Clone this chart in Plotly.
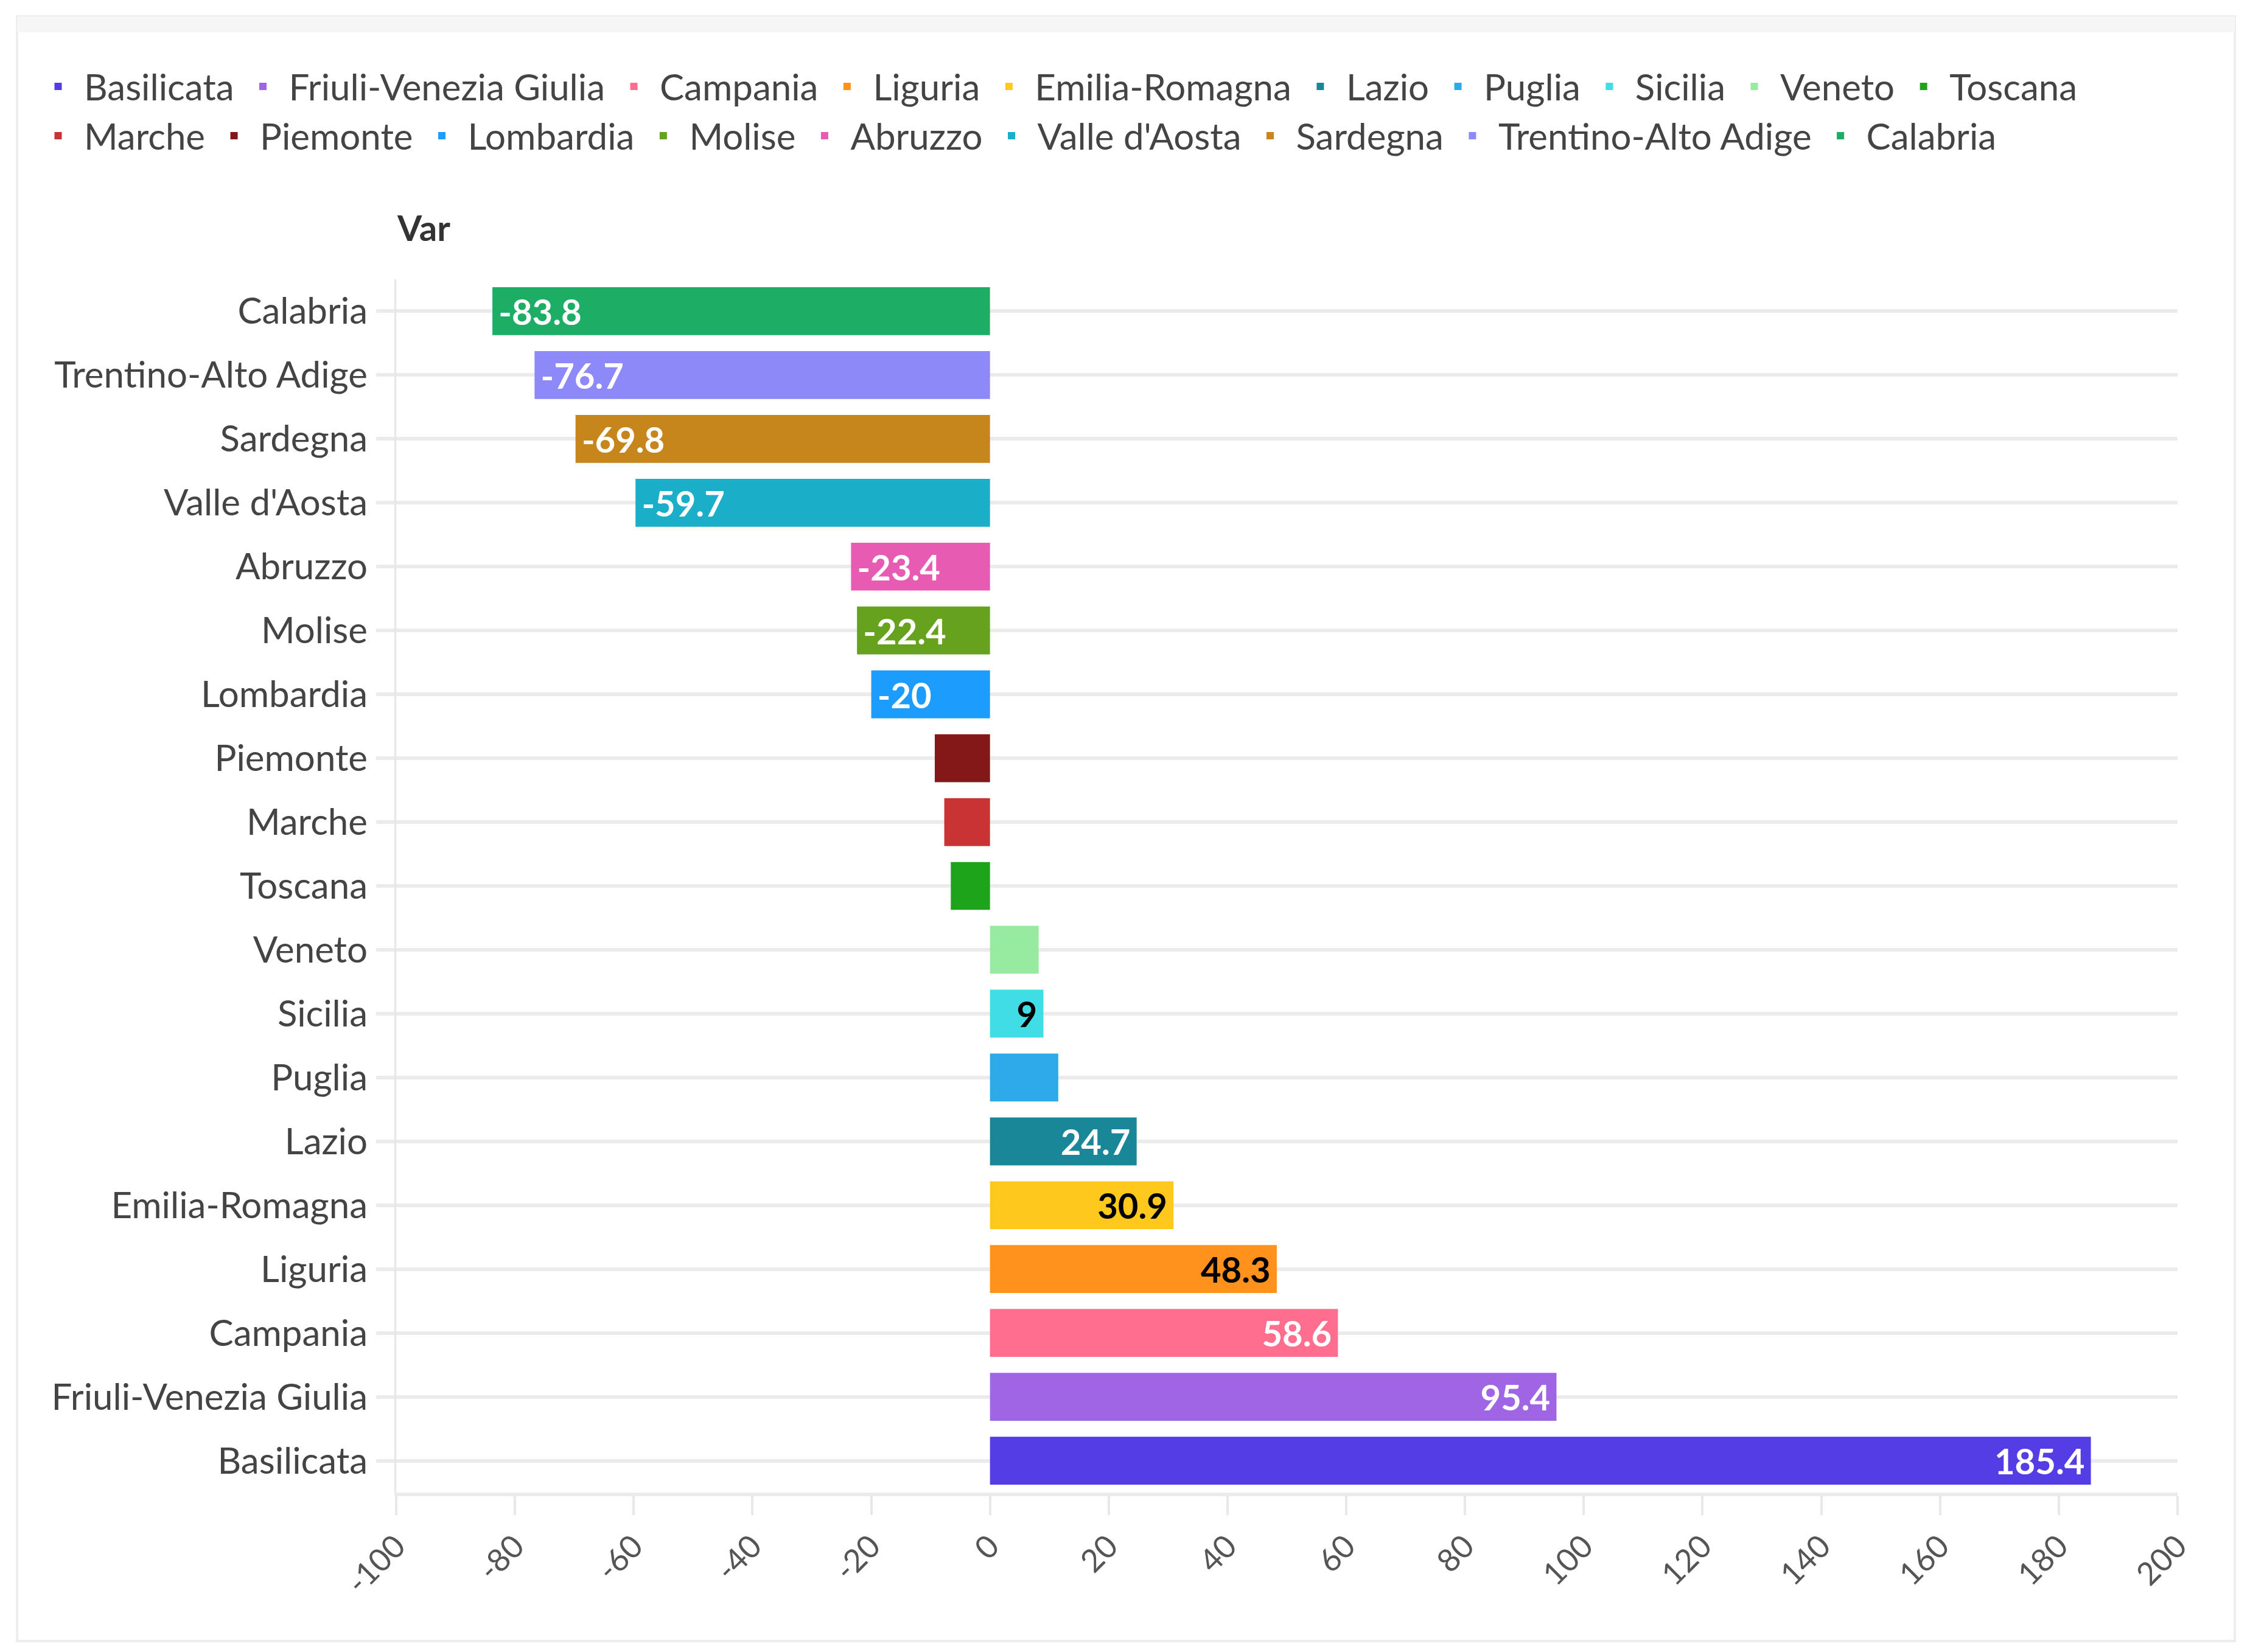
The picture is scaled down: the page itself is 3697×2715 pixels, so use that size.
import plotly.graph_objects as go

# ---- data (bottom of axis first) ----
regions = ["Basilicata", "Friuli-Venezia Giulia", "Campania", "Liguria", "Emilia-Romagna",
           "Lazio", "Puglia", "Sicilia", "Veneto", "Toscana", "Marche", "Piemonte",
           "Lombardia", "Molise", "Abruzzo", "Valle d'Aosta", "Sardegna",
           "Trentino-Alto Adige", "Calabria"]
values = [185.4, 95.4, 58.6, 48.3, 30.9, 24.7, 11.5, 9, 8.2, -6.6, -7.7, -9.3,
          -20, -22.4, -23.4, -59.7, -69.8, -76.7, -83.8]
show_label = [True, True, True, True, True, True, False, True, False, False, False, False,
              True, True, True, True, True, True, True]
colors = ["#553DE6", "#A065E5", "#FF6E8E", "#FF911C", "#FFC81C", "#1A8798", "#2EAAEB",
          "#40DDE6", "#96EBA1", "#1EA41A", "#C93333", "#841717", "#1C9CFC", "#67A21F",
          "#E75CB2", "#1AAEC8", "#C6861C", "#8E89F8", "#1DAD64"]
label_colors = ["white", "white", "white", "black", "black", "white", "white", "black",
                "black", "white", "white", "white", "white", "white", "white", "white",
                "white", "white", "white"]
legend_row = [1, 1, 1, 1, 1, 1, 1, 1, 1, 1, 2, 2, 2, 2, 2, 2, 2, 2, 2]
x_ticks = list(range(-100, 201, 20))
title_text = "Var"

# ---- layout geometry (pixels) ----
W, H = 3697, 2715
ML, MR, MT, MB = 651, 119, 459, 262
PW = W - ML - MR
PH = H - MT - MB


def pxx(px):
    return (px - ML) / PW


def pxy(py):
    return (H - MB - py) / PH


FONT = "Lato"
LEG_FONT = dict(family=FONT, size=60, color="#444444")
PAD = "\u2009"  # thin space: a little inner padding like the original labels


def bar_label(v, s):
    if not s:
        return ""
    return f"{v:g}{PAD}" if v >= 0 else f"{PAD}{v:g}"


fig = go.Figure()
for r, v, s, c, tc, lr in zip(regions, values, show_label, colors, label_colors, legend_row):
    fig.add_trace(go.Bar(
        name=r,
        y=[r],
        x=[v],
        orientation="h",
        marker=dict(color=c, line=dict(width=0)),
        text=[bar_label(v, s)],
        textposition="inside",
        insidetextanchor="end",
        textangle=0,
        textfont=dict(family=FONT, size=58, color=tc, weight="bold"),
        hoverinfo="x+y",
        legend="legend" if lr == 1 else "legend2",
    ))

leg_common = dict(
    orientation="h", xref="paper", yref="paper",
    xanchor="left", yanchor="middle",
    font=LEG_FONT, itemwidth=75, traceorder="normal", bgcolor="rgba(0,0,0,0)",
)

fig.update_layout(
    width=W, height=H, autosize=False,
    margin=dict(l=ML, r=MR, t=MT, b=MB, pad=0),
    paper_bgcolor="white", plot_bgcolor="white",
    barmode="overlay", bargap=0.25,
    font=dict(family=FONT, size=58, color="#444444"),
    showlegend=True,
    legend=dict(x=pxx(53), y=pxy(142), **leg_common),
    legend2=dict(x=pxx(53), y=pxy(223), **leg_common),
    xaxis=dict(
        range=[-100, 200], tickmode="array", tickvals=x_ticks,
        ticktext=[str(t) for t in x_ticks], tickangle=-45,
        ticks="outside", ticklen=31, tickwidth=4, tickcolor="#e8e8e8",
        showline=True, linecolor="#ebebeb", linewidth=6,
        showgrid=False, zeroline=False,
        tickfont=dict(family=FONT, size=52, color="#555555"),
        fixedrange=True,
    ),
    yaxis=dict(
        type="category", categoryorder="array", categoryarray=regions,
        showgrid=True, gridcolor="#ebebeb", gridwidth=6,
        showline=True, linecolor="#e6e6e6", linewidth=3,
        ticks="outside", ticklen=30, tickwidth=6, tickcolor="#ebebeb",
        ticklabelstandoff=2,
        tickfont=dict(family=FONT, size=60, color="#444444"),
        zeroline=False, fixedrange=True,
    ),
    annotations=[dict(
        text=f"<b>{title_text}</b>", xref="paper", yref="paper",
        x=pxx(650), y=pxy(373), xanchor="left", yanchor="middle",
        showarrow=False, font=dict(family=FONT, size=58, color="#333333"),
    )],
    shapes=[
        dict(type="rect", xref="paper", yref="paper", layer="below",
             x0=pxx(28), x1=pxx(3672), y0=pxy(2697), y1=pxy(27),
             line=dict(color="#ededed", width=4), fillcolor="rgba(0,0,0,0)"),
        dict(type="rect", xref="paper", yref="paper", layer="below",
             x0=pxx(28), x1=pxx(3672), y0=pxy(53), y1=pxy(27),
             line=dict(width=0), fillcolor="#f6f6f6"),
    ],
)

fig.write_html("out.html", config={"displayModeBar": False},
               post_script="document.body.style.margin='0px';document.body.style.overflow='hidden';")
